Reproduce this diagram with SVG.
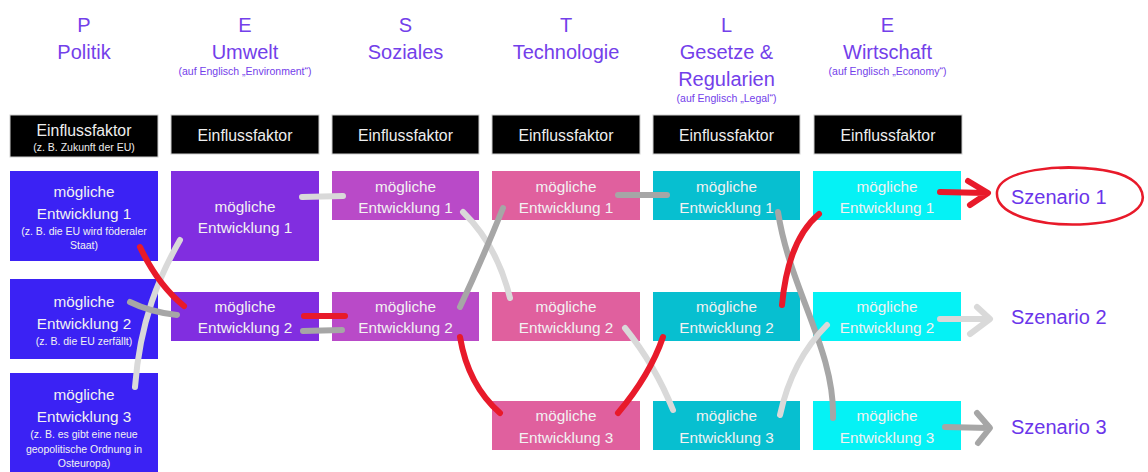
<svg xmlns="http://www.w3.org/2000/svg" width="1148" height="472" viewBox="0 0 1148 472">
<style>
.hd{font-family:"Liberation Sans",Arial,sans-serif;fill:#7340ea;text-anchor:middle}
.big{font-size:20px}
.sm{font-size:10.5px}
.bk{fill:#000;stroke:#cfcfcf;stroke-width:1}
.bt{font-family:"Liberation Sans",Arial,sans-serif;fill:#eeeeee;text-anchor:middle;font-size:15.8px}
.nt{font-family:"Liberation Sans",Arial,sans-serif;fill:#f2f2f2;text-anchor:middle;font-size:15.3px}
.ns{font-size:10.5px}
.c1{fill:#3b22f4}.c2{fill:#812ee0}.c3{fill:#b94ac8}.c4{fill:#e0609e}.c5{fill:#07bfd0}.c6{fill:#05f2f5}
.sz{font-family:"Liberation Sans",Arial,sans-serif;fill:#6a35ea;font-size:20px}
.ln{fill:none;stroke-width:6;stroke-linecap:round;stroke-linejoin:round}
.red{stroke:#e81a2a}.dg{stroke:#a6a6a6}.lg{stroke:#d9d9d9}
</style>

<g id="headers">
<text class="hd big" x="84" y="32">P</text><text class="hd big" x="84" y="59">Politik</text>
<text class="hd big" x="245" y="32">E</text><text class="hd big" x="245" y="59">Umwelt</text><text class="hd sm" x="245" y="75">(auf Englisch „Environment“)</text>
<text class="hd big" x="405.5" y="32">S</text><text class="hd big" x="405.5" y="59">Soziales</text>
<text class="hd big" x="566" y="32">T</text><text class="hd big" x="566" y="59">Technologie</text>
<text class="hd big" x="726.5" y="32">L</text><text class="hd big" x="726.5" y="59">Gesetze &amp;</text><text class="hd big" x="726.5" y="86">Regularien</text><text class="hd sm" x="726.5" y="102">(auf Englisch „Legal“)</text>
<text class="hd big" x="887.5" y="32">E</text><text class="hd big" x="887.5" y="59">Wirtschaft</text><text class="hd sm" x="887.5" y="75">(auf Englisch „Economy“)</text>
</g>

<g id="factor-1"><rect class="bk" x="10" y="115" width="148" height="42"/><text class="bt" x="84" y="136">Einflussfaktor</text><text class="bt ns" x="84" y="151">(z. B. Zukunft der EU)</text></g>
<g id="factor-2"><rect class="bk" x="171" y="115" width="148" height="39"/><text class="bt" x="245" y="141">Einflussfaktor</text></g>
<g id="factor-3"><rect class="bk" x="332" y="115" width="147" height="39"/><text class="bt" x="405.5" y="141">Einflussfaktor</text></g>
<g id="factor-4"><rect class="bk" x="492" y="115" width="148" height="39"/><text class="bt" x="566" y="141">Einflussfaktor</text></g>
<g id="factor-5"><rect class="bk" x="653" y="115" width="147" height="39"/><text class="bt" x="726.5" y="141">Einflussfaktor</text></g>
<g id="factor-6"><rect class="bk" x="814" y="115" width="148" height="39"/><text class="bt" x="888" y="141">Einflussfaktor</text></g>

<g id="p1"><rect class="c1" x="10" y="171" width="148" height="90"/><text class="nt" x="84" y="197">mögliche</text><text class="nt" x="84" y="219">Entwicklung 1</text><text class="nt ns" x="84" y="235">(z. B. die EU wird föderaler</text><text class="nt ns" x="84" y="249">Staat)</text></g>
<g id="p2"><rect class="c1" x="10" y="279" width="148" height="80"/><text class="nt" x="84" y="307">mögliche</text><text class="nt" x="84" y="329">Entwicklung 2</text><text class="nt ns" x="84" y="345">(z. B. die EU zerfällt)</text></g>
<g id="p3"><rect class="c1" x="10" y="373" width="148" height="99"/><text class="nt" x="84" y="400">mögliche</text><text class="nt" x="84" y="422">Entwicklung 3</text><text class="nt ns" x="84" y="438">(z. B. es gibt eine neue</text><text class="nt ns" x="84" y="453">geopolitische Ordnung in</text><text class="nt ns" x="84" y="467">Osteuropa)</text></g>

<g id="e1"><rect class="c2" x="171" y="171" width="148" height="90"/><text class="nt" x="245" y="212">mögliche</text><text class="nt" x="245" y="233">Entwicklung 1</text></g>
<g id="e2"><rect class="c2" x="171" y="292" width="148" height="49"/><text class="nt" x="245" y="312">mögliche</text><text class="nt" x="245" y="333">Entwicklung 2</text></g>

<g id="s1"><rect class="c3" x="332" y="171" width="147" height="49"/><text class="nt" x="405.5" y="192">mögliche</text><text class="nt" x="405.5" y="213">Entwicklung 1</text></g>
<g id="s2"><rect class="c3" x="332" y="292" width="147" height="49"/><text class="nt" x="405.5" y="312">mögliche</text><text class="nt" x="405.5" y="333">Entwicklung 2</text></g>

<g id="t1"><rect class="c4" x="492" y="171" width="148" height="49"/><text class="nt" x="566" y="192">mögliche</text><text class="nt" x="566" y="213">Entwicklung 1</text></g>
<g id="t2"><rect class="c4" x="492" y="292" width="148" height="49"/><text class="nt" x="566" y="312">mögliche</text><text class="nt" x="566" y="333">Entwicklung 2</text></g>
<g id="t3"><rect class="c4" x="492" y="401" width="148" height="49"/><text class="nt" x="566" y="421">mögliche</text><text class="nt" x="566" y="443">Entwicklung 3</text></g>

<g id="l1"><rect class="c5" x="653" y="171" width="147" height="49"/><text class="nt" x="726.5" y="192">mögliche</text><text class="nt" x="726.5" y="213">Entwicklung 1</text></g>
<g id="l2"><rect class="c5" x="653" y="292" width="147" height="49"/><text class="nt" x="726.5" y="312">mögliche</text><text class="nt" x="726.5" y="333">Entwicklung 2</text></g>
<g id="l3"><rect class="c5" x="653" y="401" width="147" height="49"/><text class="nt" x="726.5" y="421">mögliche</text><text class="nt" x="726.5" y="443">Entwicklung 3</text></g>

<g id="w1"><rect class="c6" x="813" y="171" width="148" height="49"/><text class="nt" x="887" y="192">mögliche</text><text class="nt" x="887" y="213">Entwicklung 1</text></g>
<g id="w2"><rect class="c6" x="813" y="292" width="148" height="49"/><text class="nt" x="887" y="312">mögliche</text><text class="nt" x="887" y="333">Entwicklung 2</text></g>
<g id="w3"><rect class="c6" x="813" y="401" width="148" height="49"/><text class="nt" x="887" y="421">mögliche</text><text class="nt" x="887" y="443">Entwicklung 3</text></g>

<g id="sz1"><text class="sz" x="1011" y="204">Szenario 1</text><path d="M1102,170 C1060,163 1000,170 997,192 C995,215 1040,227 1088,224 C1132,221 1150,205 1140,188 C1130,172 1097,167 1060,168" fill="none" stroke="#e81a2a" stroke-width="2.5" stroke-linecap="round"/></g>
<g id="sz2"><text class="sz" x="1011" y="324">Szenario 2</text></g>
<g id="sz3"><text class="sz" x="1011" y="434">Szenario 3</text></g>

<g id="connectors">
<path class="ln lg" d="M180,240 C160,275 140,320 135,387"/>
<path class="ln red" d="M140,247 Q158,285 184,306"/>
<path class="ln dg" d="M130,302 Q150,312 177,315"/>
<path class="ln lg" d="M302,197 L343,196"/>
<path class="ln red" d="M304,316 L345,316" stroke-width="7"/>
<path class="ln dg" d="M303,331 L342,330"/>
<path class="ln lg" d="M463,212 Q497,245 510,298"/>
<path class="ln dg" d="M503,208 Q482,260 460,307"/>
<path class="ln red" d="M460,337 Q468,385 500,413"/>
<path class="ln dg" d="M618,195 L667,195"/>
<path class="ln lg" d="M625,328 Q655,365 673,410"/>
<path class="ln red" d="M618,413 Q650,375 663,337"/>
<path class="ln dg" d="M778,212 C790,290 835,350 833,418"/>
<path class="ln red" d="M782,305 Q788,240 819,214"/>
<path class="ln lg" d="M780,415 Q792,360 827,325"/>
<path class="ln red" d="M940,192 L987,193 M968,181 L988,193 L970,205"/>
<path class="ln lg" d="M940,319 L989,319 M977,307 L990,319 L970,334"/>
<path class="ln dg" d="M945,427 L989,428 M977,413 L990,428 L978,443"/>
</g>
</svg>
